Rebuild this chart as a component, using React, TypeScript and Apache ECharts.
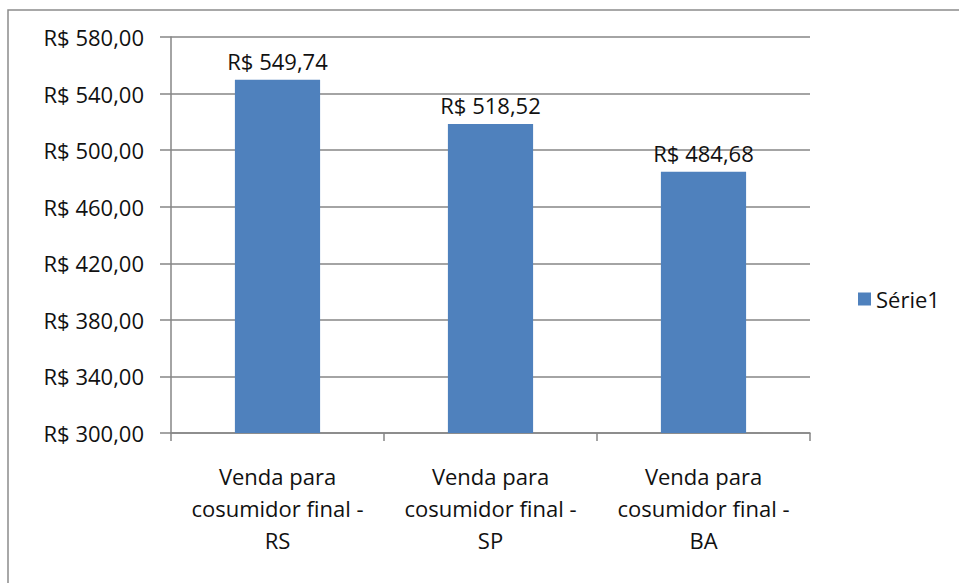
import React, { useEffect, useRef } from "react";
import * as echarts from "echarts";

const categories = [
  "Venda para\ncosumidor final -\nRS",
  "Venda para\ncosumidor final -\nSP",
  "Venda para\ncosumidor final -\nBA",
];
const values = [549.74, 518.52, 484.68];
const seriesName = "Série1";
const yMin = 300;
const yMax = 580;
const yStep = 40;

const fmt = (v: number) => "R$ " + v.toFixed(2).replace(".", ",");

export default function App() {
  const ref = useRef<HTMLDivElement>(null);
  useEffect(() => {
    document.body.style.margin = "0";
    const chart = echarts.init(ref.current!, null, { renderer: "svg" });
    const font = "'Open Sans', sans-serif";
    chart.setOption({
      animation: false,
      backgroundColor: "#ffffff",
      graphic: [
        {
          type: "rect",
          shape: { x: 8, y: 10, width: 1200, height: 1000 },
          style: { fill: "none", stroke: "#8c8c8c", lineWidth: 1.5 },
          silent: true,
        },
      ],
      grid: { left: 171, right: 149, top: 37, bottom: 150, containLabel: false },
      legend: {
        orient: "vertical",
        left: 853,
        top: 283,
        icon: "rect",
        itemWidth: 13,
        itemHeight: 13,
        itemGap: 8,
        textStyle: { fontFamily: font, fontSize: 22, color: "#111" },
        data: [seriesName],
      },
      xAxis: {
        type: "category",
        data: categories,
        axisLine: { lineStyle: { color: "#868686", width: 1.5 } },
        axisTick: { show: true, length: 8, alignWithLabel: false, lineStyle: { color: "#868686", width: 1.5 } },
        axisLabel: {
          interval: 0,
          fontFamily: font,
          fontSize: 22,
          lineHeight: 32,
          color: "#111",
          margin: 27,
        },
      },
      yAxis: {
        type: "value",
        min: yMin,
        max: yMax,
        interval: yStep,
        axisLine: { show: true, lineStyle: { color: "#868686", width: 1.5 } },
        axisTick: { show: true, length: 11, lineStyle: { color: "#868686", width: 1.5 } },
        splitLine: { show: true, lineStyle: { color: "#868686", width: 1.5 } },
        axisLabel: {
          fontFamily: font,
          fontSize: 22,
          color: "#111",
          margin: 27,
          formatter: (v: number) => fmt(v),
        },
      },
      series: [
        {
          name: seriesName,
          type: "bar",
          data: values,
          barWidth: "40%",
          itemStyle: { color: "#4f81bd" },
          label: {
            show: true,
            position: "top",
            distance: 8,
            fontFamily: font,
            fontSize: 22,
            color: "#111",
            formatter: (p: any) => fmt(p.value),
          },
        },
      ],
    });
    return () => chart.dispose();
  }, []);
  return <div ref={ref} style={{ width: 959, height: 583 }} />;
}
